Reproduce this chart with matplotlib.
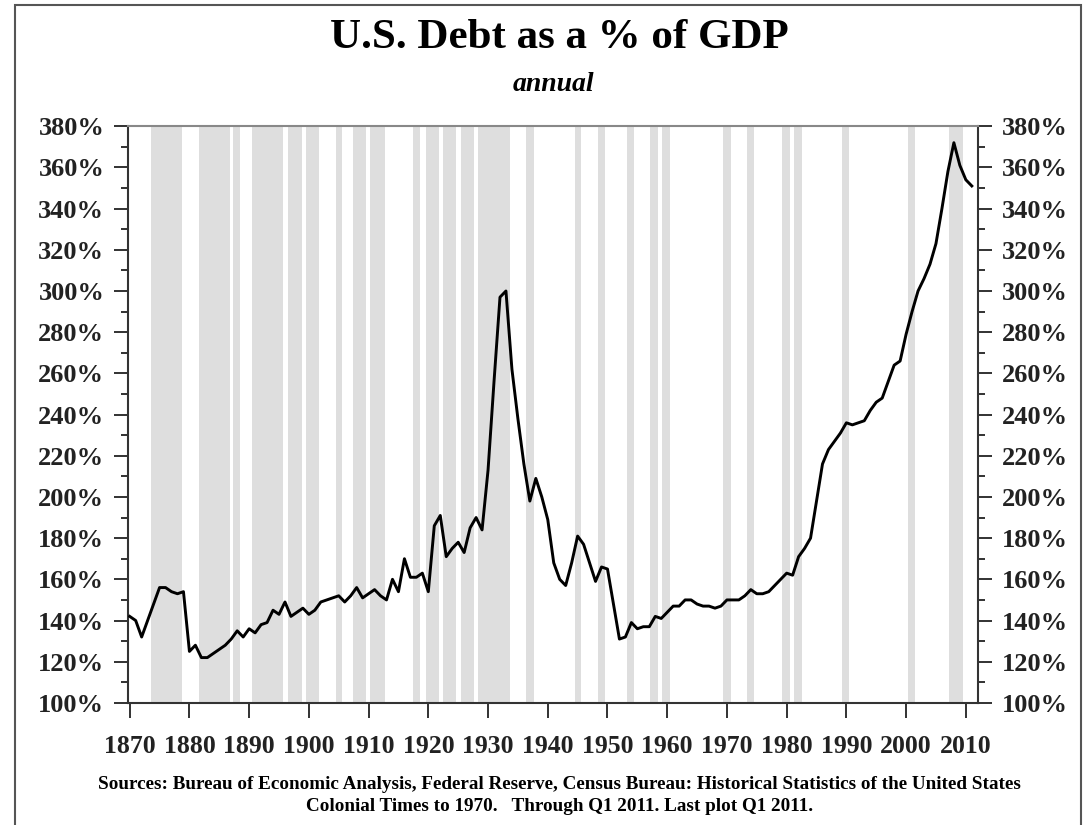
# -*- coding: utf-8 -*-
import numpy as np
import matplotlib
matplotlib.use("Agg")
import matplotlib.pyplot as plt
from matplotlib.patches import Rectangle
from matplotlib.ticker import MultipleLocator, FuncFormatter

plt.rcParams['font.family'] = ['Liberation Serif', 'DejaVu Serif']

# years and debt / GDP (%)
years = list(range(1870, 2012))
debt = [
    142, 140, 132, 140, 148, 156, 156, 154, 153, 154,   # 1870s
    125, 128, 122, 122, 124, 126, 128, 131, 135, 132,   # 1880s
    136, 134, 138, 139, 145, 143, 149, 142, 144, 146,   # 1890s
    143, 145, 149, 150, 151, 152, 149, 152, 156, 151,   # 1900s
    153, 155, 152, 150, 160, 154, 170, 161, 161, 163,   # 1910s
    154, 186, 191, 171, 175, 178, 173, 185, 190, 184,   # 1920s
    213, 256, 297, 300, 262, 238, 216, 198, 209, 200,   # 1930s
    189, 168, 160, 157, 168, 181, 177, 168, 159, 166,   # 1940s
    165, 148, 131, 132, 139, 136, 137, 137, 142, 141,   # 1950s
    144, 147, 147, 150, 150, 148, 147, 147, 146, 147,   # 1960s
    150, 150, 150, 152, 155, 153, 153, 154, 157, 160,   # 1970s
    163, 162, 171, 175, 180, 198, 216, 223, 227, 231,   # 1980s
    236, 235, 236, 237, 242, 246, 248, 256, 264, 266,   # 1990s
    279, 290, 300, 306, 313, 323, 340, 358, 372, 361,   # 2000s
    354, 351,                                           # 2010-2011
]

# recession periods (grey bands)
rec_start = [1873.6, 1881.6, 1887.3, 1890.5, 1896.5, 1899.5, 1904.5, 1907.4,
             1910.3, 1917.5, 1919.6, 1922.4, 1925.4, 1928.3, 1936.4, 1944.5,
             1948.4, 1953.3, 1957.2, 1959.2, 1969.4, 1973.3, 1979.2, 1981.2,
             1989.2, 2000.3, 2007.2]
rec_end = [1878.7, 1886.8, 1888.4, 1895.7, 1898.9, 1901.7, 1905.6, 1909.6,
           1912.7, 1918.6, 1921.8, 1924.7, 1927.6, 1933.6, 1937.7, 1945.5,
           1949.6, 1954.5, 1958.4, 1960.4, 1970.7, 1974.5, 1980.6, 1982.5,
           1990.4, 2001.5, 2009.5]

xticks = list(range(1870, 2011, 10))


def Main():
    fig = plt.figure(figsize=(10.84, 8.25), dpi=100)
    ax = fig.add_axes([0.118, 0.148, 0.784, 0.699])

    # recession shading
    for s, e in zip(rec_start, rec_end):
        ax.axvspan(s, e, color='#dedede', lw=0, zorder=0)

    ax.plot(years, debt, color='black', lw=2.1, zorder=3)

    ax.set_xlim(1869.7, 2012)
    ax.set_ylim(100, 380)

    ax.set_xticks(xticks)
    ax.yaxis.set_major_locator(MultipleLocator(20))
    ax.yaxis.set_minor_locator(MultipleLocator(10))
    ax.yaxis.set_major_formatter(FuncFormatter(lambda v, p: '%d%%' % v))

    ax.tick_params(axis='x', which='major', length=11, width=1.3, pad=12,
                   labelsize=18.5, colors='#222222')
    ax.tick_params(axis='y', which='major', length=10, width=1.3, pad=7,
                   labelsize=19, colors='#222222', left=True, right=True,
                   labelleft=True, labelright=True)
    ax.tick_params(axis='y', which='minor', length=5, width=1.3,
                   left=True, right=True, colors='#222222')
    for lab in ax.get_xticklabels() + ax.get_yticklabels():
        lab.set_fontweight('bold')

    for side in ['left', 'right', 'bottom']:
        ax.spines[side].set_color('#333333')
        ax.spines[side].set_linewidth(1.5)
    ax.spines['top'].set_color('#888888')
    ax.spines['top'].set_linewidth(1.5)

    # titles
    fig.text(0.516, 1 - 48 / 825, 'U.S. Debt as a % of GDP', ha='center',
             va='baseline', fontsize=31, fontweight='bold')
    fig.text(0.511, 1 - 91 / 825, 'annual', ha='center', va='baseline',
             fontsize=20, fontweight='bold', style='italic')

    # sources
    fig.text(0.516, 1 - 789 / 825,
             'Sources: Bureau of Economic Analysis, Federal Reserve, Census Bureau: '
             'Historical Statistics of the United States',
             ha='center', va='baseline', fontsize=13.8, fontweight='bold')
    fig.text(0.516, 1 - 811 / 825,
             'Colonial Times to 1970.   Through Q1 2011. Last plot Q1 2011.',
             ha='center', va='baseline', fontsize=13.8, fontweight='bold')

    # outer frame
    fig.patches.append(Rectangle((15 / 1084, -0.05), 1066 / 1084, 1.05 - 5 / 825,
                                 transform=fig.transFigure, fill=False,
                                 edgecolor='#555555', lw=1.5))

    fig.savefig('out.png', dpi=100)


if __name__ == "__main__":
    Main()
